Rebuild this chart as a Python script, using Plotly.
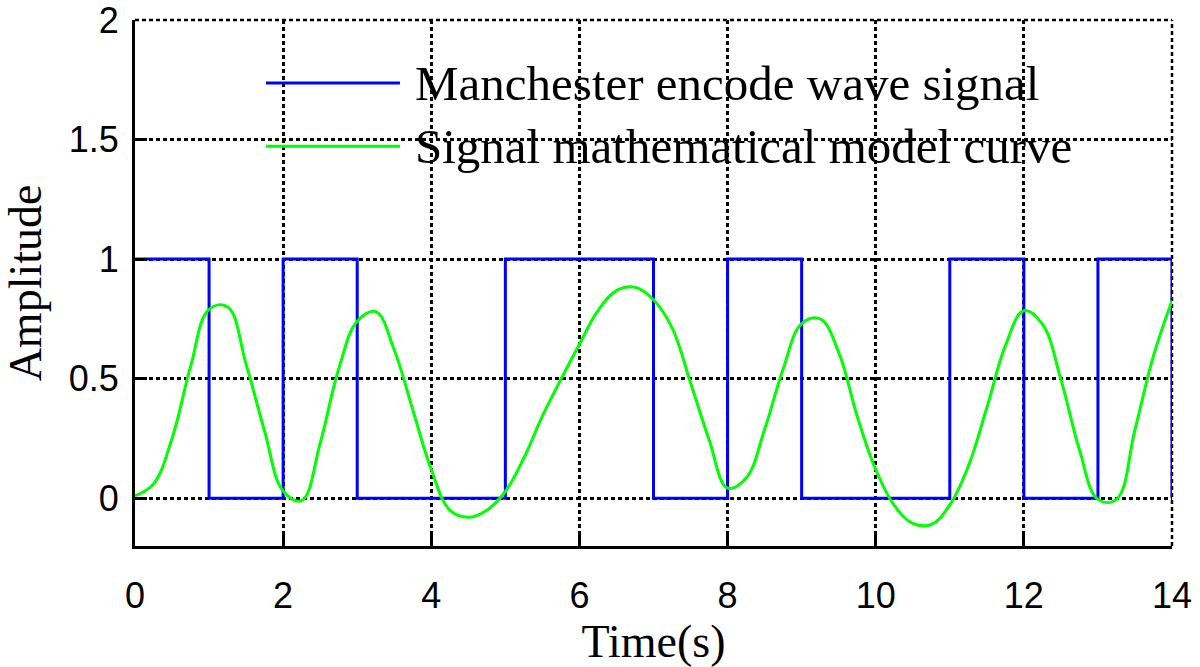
import plotly.graph_objects as go

# Manchester encoded bits (value held over each 1 s interval), last point closes at t=14
bit_times = [0, 1, 2, 3, 4, 5, 6, 7, 8, 9, 10, 11, 12, 13, 14]
bit_values = [1, 0, 1, 0, 0, 1, 1, 0, 1, 0, 0, 1, 0, 1, 0]

# Signal mathematical model curve (every 0.25 s)
curve_t = [0, 0.25, 0.5, 0.75, 1.0, 1.25, 1.5, 1.75, 2.0, 2.25, 2.5, 2.75,
           3.0, 3.25, 3.5, 3.75, 4.0, 4.25, 4.5, 4.75, 5.0, 5.25, 5.5, 5.75,
           6.0, 6.25, 6.5, 6.75, 7.0, 7.25, 7.5, 7.75, 8.0, 8.25, 8.5, 8.75,
           9.0, 9.25, 9.5, 9.75, 10.0, 10.25, 10.5, 10.75, 11.0, 11.25, 11.5, 11.75,
           12.0, 12.25, 12.5, 12.75, 13.0, 13.25, 13.5, 13.75, 14.0]
curve_v = [0.01, 0.06, 0.25, 0.55, 0.79, 0.80, 0.56, 0.28, 0.03, -0.01, 0.23, 0.54,
           0.74, 0.78, 0.62, 0.37, 0.12, -0.05, -0.08, -0.05, 0.028, 0.168, 0.343, 0.497,
           0.644, 0.784, 0.868, 0.882, 0.83, 0.713, 0.483, 0.245, 0.042, 0.084, 0.287, 0.54,
           0.73, 0.75, 0.61, 0.343, 0.12, -0.03, -0.105, -0.11, -0.028, 0.133, 0.378, 0.637,
           0.784, 0.728, 0.497, 0.203, -0.005, -0.005, 0.287, 0.595, 0.826]

x_ticks = [0, 2, 4, 6, 8, 10, 12, 14]
y_ticks = [0, 0.5, 1, 1.5, 2]
y_tick_labels = ["0", "0.5", "1", "1.5", "2"]

names = ["Manchester encode wave signal", "Signal mathematical model curve"]
colors = ["#0000FF", "#00FF00"]

grid_dash = "4px,3px"
grid_width = 2.5

fig = go.Figure()
fig.add_trace(go.Scatter(x=bit_times, y=bit_values, mode="lines", line_shape="hv",
                         line=dict(color=colors[0], width=3), name=names[0], showlegend=False))
fig.add_trace(go.Scatter(x=curve_t, y=curve_v, mode="lines", line_shape="spline",
                         line=dict(color=colors[1], width=3, smoothing=1.1),
                         name=names[1], showlegend=False))

# dashed top and right borders (continuation of the grid)
fig.add_shape(type="line", xref="paper", yref="paper", x0=0, x1=1, y0=1, y1=1,
              line=dict(color="black", width=grid_width, dash=grid_dash), layer="below")
fig.add_shape(type="line", xref="paper", yref="paper", x0=1, x1=1, y0=0, y1=1,
              line=dict(color="black", width=grid_width, dash=grid_dash), layer="below")

# custom legend (long line samples like the original)
legend_rows = [0.880, 0.760]
for name, col, yy in zip(names, colors, legend_rows):
    fig.add_shape(type="line", xref="paper", yref="paper", x0=0.1263, x1=0.2555, y0=yy, y1=yy,
                  line=dict(color=col, width=3))
    fig.add_annotation(xref="paper", yref="paper", x=0.268, y=yy, xanchor="left", yanchor="middle",
                       text=name, showarrow=False,
                       font=dict(family="Liberation Serif", size=49, color="black"))

axis_common = dict(showgrid=True, gridcolor="black", gridwidth=grid_width, griddash=grid_dash,
                   zeroline=False, showline=True, linecolor="black", linewidth=3,
                   ticks="inside", ticklen=12, tickwidth=2.5, tickcolor="black", automargin=False,
                   ticklabeloverflow="allow",
                   tickfont=dict(family="Liberation Sans", size=36, color="black"))

fig.update_xaxes(range=[0, 14], tickvals=x_ticks, ticklabelstandoff=16,
                 title=dict(text="Time(s)", font=dict(family="Liberation Serif", size=46, color="black"),
                            standoff=0),
                 **axis_common)
fig.update_yaxes(range=[-0.2, 2], tickvals=y_ticks, ticktext=y_tick_labels, ticklabelstandoff=6,
                 title=dict(text="Amplitude", font=dict(family="Liberation Serif", size=46, color="black"),
                            standoff=18),
                 **axis_common)

fig.update_layout(width=1200, height=667, plot_bgcolor="white", paper_bgcolor="white",
                  margin=dict(l=135, r=28, t=20, b=121), showlegend=False)

fig.write_html("out.html", config={"displayModeBar": False},
               post_script="document.body.style.margin='0px';")
